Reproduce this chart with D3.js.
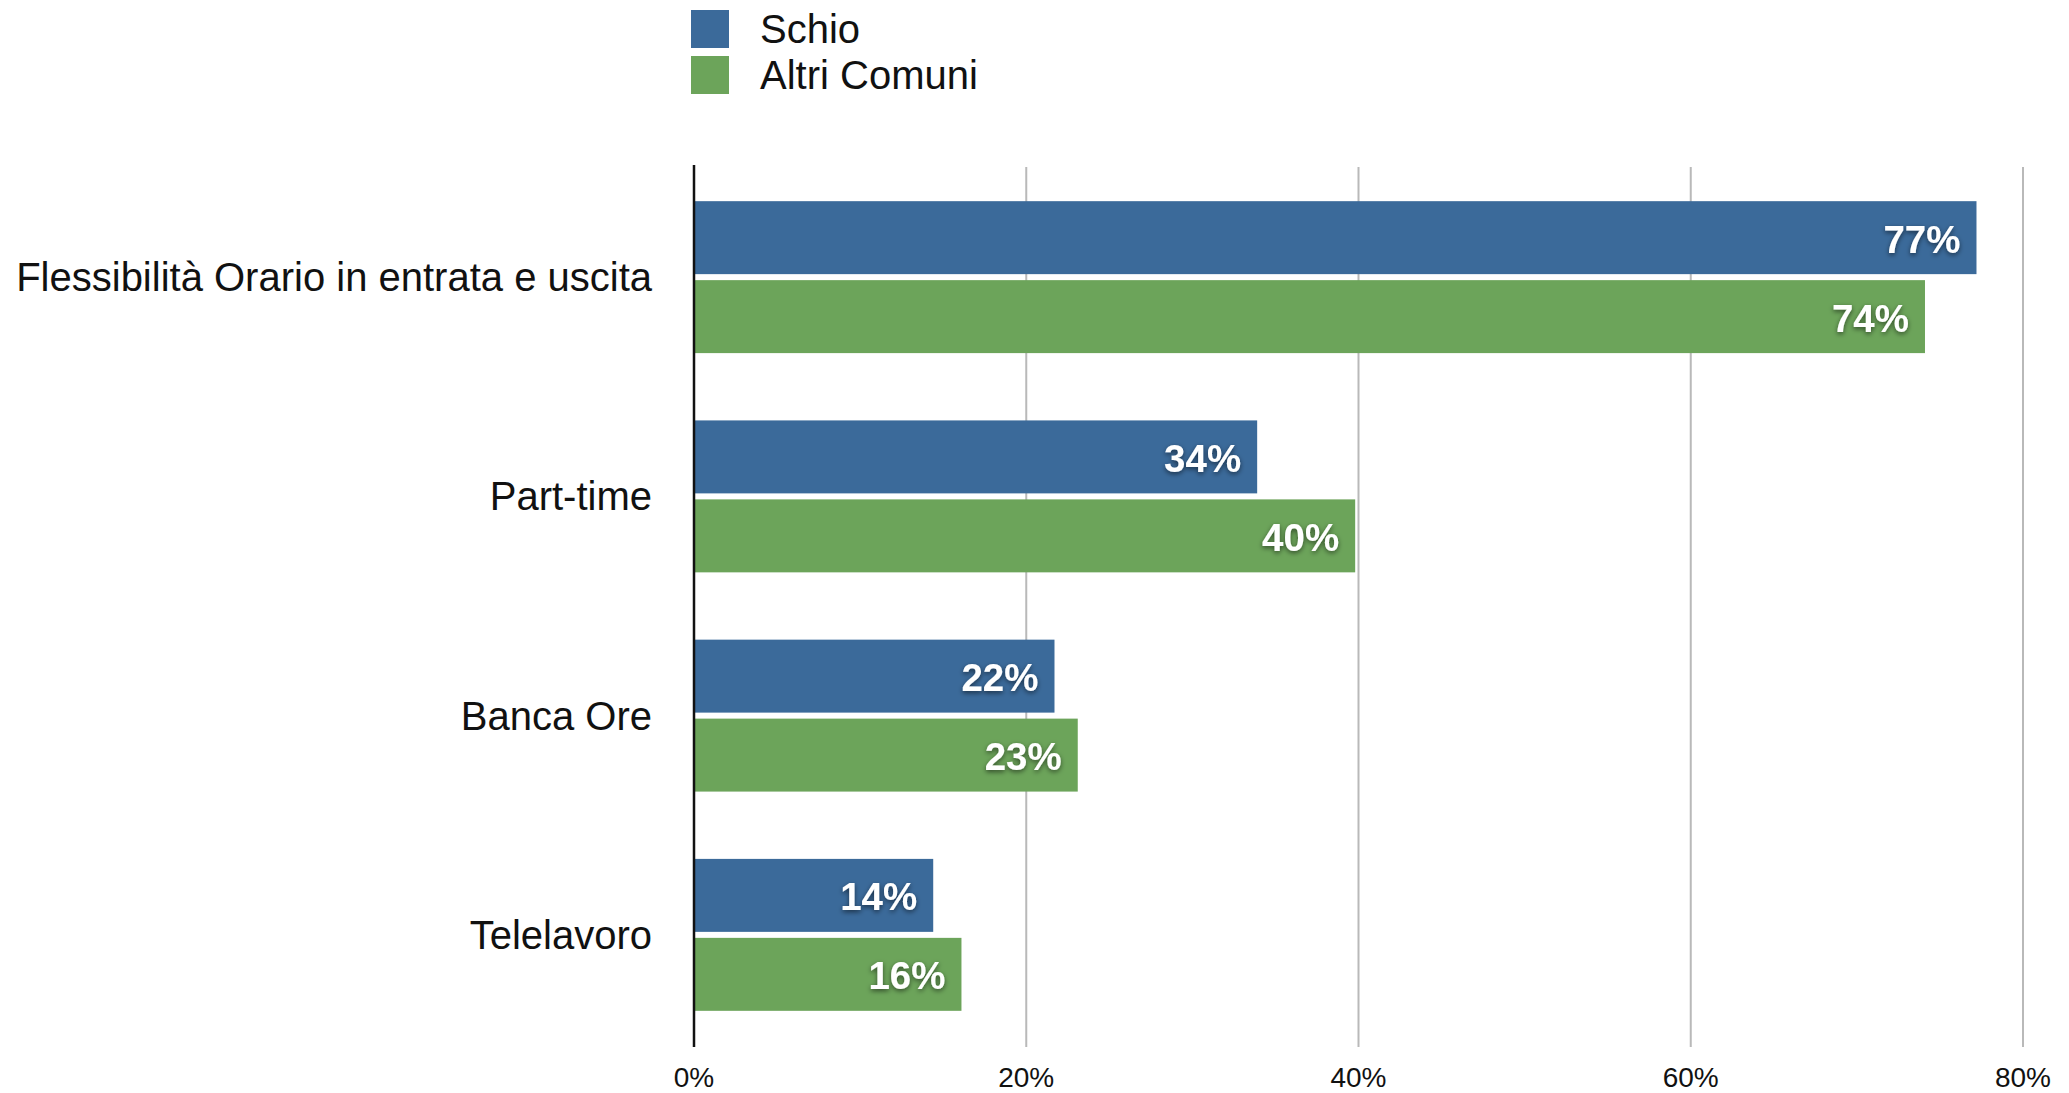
<!DOCTYPE html>
<html>
<head>
<meta charset="utf-8">
<script src="https://cdn.jsdelivr.net/npm/d3@7"></script>
<style>
  html, body { margin: 0; padding: 0; background: #fff; }
  svg { display: block; font-family: "Liberation Sans", Arial, Helvetica, sans-serif; }
</style>
</head>
<body>
<svg id="chart" width="2069" height="1093"></svg>
<script>
const categories = [
  "Flessibilità Orario in entrata e uscita",
  "Part-time",
  "Banca Ore",
  "Telelavoro",
];
const seriesNames = ["Schio", "Altri Comuni"];
const schio = [77.2, 33.9, 21.7, 14.4];
const altriComuni = [74.1, 39.8, 23.1, 16.1];
const xTicks = [0, 20, 40, 60, 80];

const colors = { "Schio": "#3b6a9a", "Altri Comuni": "#6ca45a" };

const width = 2069;
const height = 1093;
const margin = { top: 165, right: 46, bottom: 46, left: 694 };

const rows = categories.map((name, i) => ({
  name,
  values: [
    { series: "Schio", value: schio[i] },
    { series: "Altri Comuni", value: altriComuni[i] },
  ],
}));

const svg = d3.select("#chart");

const defs = svg.append("defs");
const shadow = defs.append("filter")
  .attr("id", "label-shadow")
  .attr("x", "-20%").attr("y", "-40%")
  .attr("width", "140%").attr("height", "180%");
shadow.append("feDropShadow")
  .attr("dx", 0).attr("dy", 2)
  .attr("stdDeviation", 2.5)
  .attr("flood-color", "#000")
  .attr("flood-opacity", 0.55);

const x = d3.scaleLinear()
  .domain([0, 80])
  .range([margin.left, 2023]);

const y0 = d3.scaleBand()
  .domain(categories)
  .range([margin.top, height - margin.bottom])
  .paddingInner(0.307)
  .paddingOuter(0.165);

const y1 = d3.scaleBand()
  .domain(seriesNames)
  .range([0, y0.bandwidth()])
  .paddingInner(0.076);

// vertical gridlines
svg.append("g")
  .selectAll("line")
  .data(xTicks.filter(t => t > 0))
  .join("line")
  .attr("x1", d => x(d)).attr("x2", d => x(d))
  .attr("y1", margin.top + 2)
  .attr("y2", height - margin.bottom)
  .attr("stroke", "#b9b9b9")
  .attr("stroke-width", 2);

// tick labels
svg.append("g")
  .selectAll("text")
  .data(xTicks)
  .join("text")
  .attr("x", d => x(d))
  .attr("y", 1087)
  .attr("text-anchor", "middle")
  .style("font-size", "28px")
  .attr("fill", "#111")
  .text(d => `${d}%`);

// bars
const group = svg.append("g")
  .selectAll("g")
  .data(rows)
  .join("g")
  .attr("transform", d => `translate(0,${y0(d.name)})`);

group.selectAll("rect")
  .data(d => d.values)
  .join("rect")
  .attr("x", x(0))
  .attr("y", d => y1(d.series))
  .attr("width", d => x(d.value) - x(0))
  .attr("height", y1.bandwidth())
  .attr("fill", d => colors[d.series]);

group.selectAll(".value")
  .data(d => d.values)
  .join("text")
  .attr("class", "value")
  .attr("x", d => x(d.value) - 16)
  .attr("y", d => y1(d.series) + y1.bandwidth() / 2 + 15)
  .attr("text-anchor", "end")
  .attr("fill", "#fff")
  .attr("filter", "url(#label-shadow)")
  .style("font-size", "38.5px")
  .style("font-weight", "bold")
  .text(d => `${Math.round(d.value)}%`);

// category labels
svg.append("g")
  .selectAll("text")
  .data(categories)
  .join("text")
  .attr("x", 652)
  .attr("y", d => y0(d) + y0.bandwidth() / 2 + 14)
  .attr("text-anchor", "end")
  .attr("fill", "#111")
  .style("font-size", "40px")
  .text(d => d);

// y axis line
svg.append("line")
  .attr("x1", x(0)).attr("x2", x(0))
  .attr("y1", margin.top)
  .attr("y2", height - margin.bottom)
  .attr("stroke", "#111")
  .attr("stroke-width", 2.5);

// legend
const legend = svg.append("g")
  .selectAll("g")
  .data(seriesNames)
  .join("g")
  .attr("transform", (d, i) => `translate(691,${10 + i * 46})`);

legend.append("rect")
  .attr("width", 38)
  .attr("height", 38)
  .attr("fill", d => colors[d]);

legend.append("text")
  .attr("x", 69)
  .attr("y", 33)
  .attr("fill", "#111")
  .style("font-size", "40px")
  .text(d => d);
</script>
</body>
</html>
